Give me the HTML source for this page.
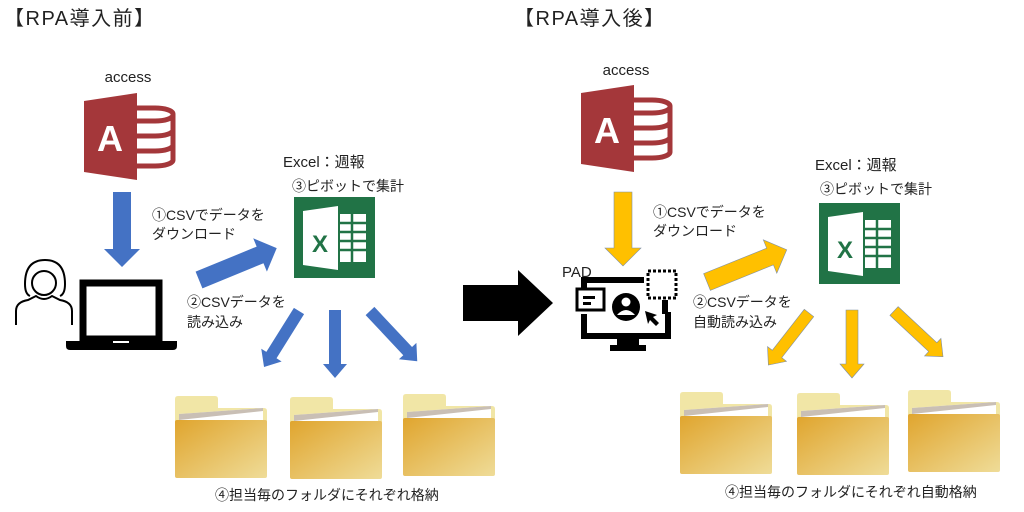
<!DOCTYPE html>
<html><head><meta charset="utf-8"><style>
html,body{margin:0;padding:0;background:#fff;}
svg{display:block;}
text{font-family:"Liberation Sans","Noto Sans CJK JP",sans-serif;fill:#222;}
</style></head><body>
<svg width="1024" height="512" viewBox="0 0 1024 512" xmlns="http://www.w3.org/2000/svg">
<defs>
<linearGradient id="fg" x1="0" y1="0" x2="1" y2="1">
<stop offset="0" stop-color="#e0a52e"/><stop offset="1" stop-color="#efdc98"/>
</linearGradient>
<g id="folder">
<path d="M0,3 q0,-3 3,-3 h37 q3,0 3,3 v9 h46 q3,0 3,3 v60 h-92z" fill="#f1e6a6"/>
<polygon points="4,18 88,12 88,40 4,40" fill="#fff"/>
<polygon points="4,18 88,12 88,15 4,24" fill="#c9bfb5"/>
<rect x="0" y="24" width="92" height="58" rx="2" fill="url(#fg)"/>
</g>
<g id="access">
<polygon points="0,8 53,0 53,87 0,79" fill="#a4373a"/>
<text x="26" y="58" font-size="36" font-weight="bold" text-anchor="middle" style="fill:#fff">A</text>
<g fill="none" stroke="#a4373a" stroke-width="5">
<path d="M53,15 h18 a18,6 0 0 1 18,6 v46 a18,6 0 0 1 -18,6 h-18"/>
<path d="M53,28 h18 a18,6 0 0 0 18,-6"/>
<path d="M53,43 h18 a18,6 0 0 0 18,-6"/>
<path d="M53,58 h18 a18,6 0 0 0 18,-6"/>
</g>
</g>
<g id="excel">
<rect x="0" y="0" width="81" height="81" fill="#217346"/>
<polygon points="9,14 44,9 44,73 9,68" fill="#fff"/>
<rect x="46" y="17" width="26" height="48" fill="#fff"/>
<g stroke="#217346" stroke-width="2.5">
<line x1="46" y1="26" x2="72" y2="26"/><line x1="46" y1="35" x2="72" y2="35"/><line x1="46" y1="44" x2="72" y2="44"/><line x1="46" y1="53" x2="72" y2="53"/>
<line x1="58" y1="17" x2="58" y2="65"/>
</g>
<text x="26" y="55" font-size="24" font-weight="bold" text-anchor="middle" style="fill:#217346">X</text>
</g>
</defs>

<!-- LEFT -->
<text x="4" y="25" font-size="20" letter-spacing="1.5">【RPA導入前】</text>
<text x="128" y="82" font-size="15" text-anchor="middle">access</text>
<use href="#access" x="84" y="93"/>
<polygon points="113,192 131,192 131,249 140,249 122,267 104,249 113,249" fill="#4472c4"/>
<text x="152" y="220" font-size="14">①CSVでデータを</text>
<text x="152" y="239" font-size="14">ダウンロード</text>
<!-- person -->
<g fill="none" stroke="#000" stroke-width="2">
<path d="M30,296 q-5,-2 -5,-12 q0,-24 20,-24 q20,0 20,24 q0,10 -5,12"/>
<circle cx="44" cy="283" r="12"/>
<path d="M16,325 v-14 q0,-9 12,-11 l8,-4 q8,6 16,0 l8,4 q12,2 12,11 v14"/>
</g>
<!-- laptop -->
<rect x="83" y="283" width="76" height="56" fill="none" stroke="#000" stroke-width="7"/>
<path d="M66,341 h111 v5 q0,4 -4,4 h-103 q-4,0 -4,-4z" fill="#000"/>
<rect x="113" y="341" width="16" height="2" fill="#fff"/>
<!-- diag arrow -->
<g transform="translate(199,280) rotate(-22.3)"><polygon points="0,-9 66,-9 66,-18 84,0 66,18 66,9 0,9" fill="#4472c4"/></g>
<text x="187" y="307" font-size="14">②CSVデータを</text>
<text x="187" y="327" font-size="14">読み込み</text>
<text x="283" y="167" font-size="15">Excel：週報</text>
<text x="292" y="191" font-size="14">③ピボットで集計</text>
<use href="#excel" x="294" y="197"/>
<g fill="#4472c4">
<g transform="translate(299,311) rotate(122)"><polygon points="0,-6 52,-6 52,-12 66,0 52,12 52,6 0,6"/></g>
<g transform="translate(335,310) rotate(90)"><polygon points="0,-6 54,-6 54,-12 68,0 54,12 54,6 0,6"/></g>
<g transform="translate(370,311) rotate(46.8)"><polygon points="0,-6 55,-6 55,-12 69,0 55,12 55,6 0,6"/></g>
</g>
<use href="#folder" x="175" y="396"/>
<use href="#folder" x="290" y="397"/>
<use href="#folder" x="403" y="394"/>
<text x="215" y="500" font-size="14">④担当毎のフォルダにそれぞれ格納</text>

<!-- big arrow -->
<polygon points="463,285 518,285 518,270 553,303 518,336 518,321 463,321" fill="#000"/>

<!-- RIGHT -->
<text x="514" y="25" font-size="20" letter-spacing="1.5">【RPA導入後】</text>
<text x="626" y="75" font-size="15" text-anchor="middle">access</text>
<use href="#access" x="581" y="85"/>
<polygon points="614,192 632,192 632,248 641,248 623,266 605,248 614,248" fill="#ffc000" stroke="#7f8fa6" stroke-width="0.6"/>
<text x="653" y="217" font-size="14">①CSVでデータを</text>
<text x="653" y="236" font-size="14">ダウンロード</text>
<text x="562" y="277" font-size="15">PAD</text>
<!-- monitor -->
<path d="M584,314 v22 h84 v-24" fill="none" stroke="#000" stroke-width="6"/>
<path d="M584,292 v-12 h60" fill="none" stroke="#000" stroke-width="6"/>
<path d="M665,300 v14" fill="none" stroke="#000" stroke-width="6"/>
<rect x="617" y="336" width="22" height="10" fill="#000"/>
<rect x="610" y="345" width="36" height="6" fill="#000"/>
<rect x="648" y="271" width="28" height="27" fill="none" stroke="#000" stroke-width="3" stroke-dasharray="3,2"/>
<rect x="577" y="289" width="27" height="21" fill="#fff" stroke="#000" stroke-width="3"/>
<rect x="583" y="296" width="12" height="3" fill="#000"/><rect x="583" y="302" width="8" height="3" fill="#000"/>
<circle cx="626" cy="307" r="14" fill="#000"/>
<circle cx="626" cy="302" r="4.5" fill="#fff"/>
<path d="M617,315 q9,-10 18,0z" fill="#fff"/>
<polygon points="645,311 657,315 653,317 659,323 656,326 650,320 648,324" fill="#000"/>
<g transform="translate(707,282) rotate(-22)"><polygon points="0,-9 68,-9 68,-18 86,0 68,18 68,9 0,9" fill="#ffc000" stroke="#7f8fa6" stroke-width="0.6"/></g>
<text x="693" y="307" font-size="14">②CSVデータを</text>
<text x="693" y="327" font-size="14">自動読み込み</text>
<text x="815" y="170" font-size="15">Excel：週報</text>
<text x="820" y="194" font-size="14">③ピボットで集計</text>
<use href="#excel" x="819" y="203"/>
<g fill="#ffc000" stroke="#7f8fa6" stroke-width="0.6">
<g transform="translate(809,313) rotate(128)"><polygon points="0,-6 52,-6 52,-12 66,0 52,12 52,6 0,6"/></g>
<g transform="translate(852,310) rotate(90)"><polygon points="0,-6 54,-6 54,-12 68,0 54,12 54,6 0,6"/></g>
<g transform="translate(894,311) rotate(43)"><polygon points="0,-6 53,-6 53,-12 67,0 53,12 53,6 0,6"/></g>
</g>
<use href="#folder" x="680" y="392"/>
<use href="#folder" x="797" y="393"/>
<use href="#folder" x="908" y="390"/>
<text x="725" y="497" font-size="14">④担当毎のフォルダにそれぞれ自動格納</text>
</svg>
</body></html>
